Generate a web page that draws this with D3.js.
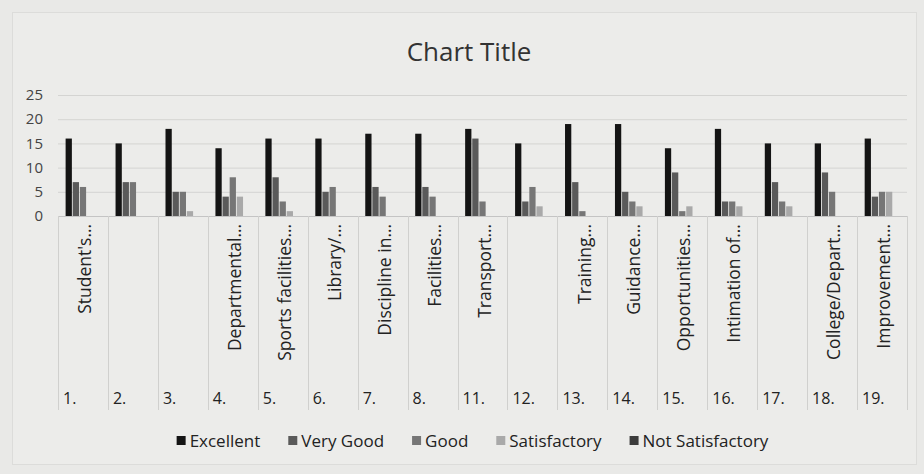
<!DOCTYPE html>
<html>
<head>
<meta charset="utf-8">
<script src="https://cdn.jsdelivr.net/npm/d3@7"></script>
<style>
    body { margin: 0; background: #e9e9e7; }
    svg { display: block; font-family: "Open Sans", sans-serif; }
</style>
</head>
<body>
<div class="chart"></div>
<script>
const numbers = ['1.', '2.', '3.', '4.', '5.', '6.', '7.', '8.', '11.', '12.', '13.', '14.', '15.', '16.', '17.', '18.', '19.']
const names = ["Student's…", '', '', 'Departmental…', 'Sports facilities…', 'Library/…', 'Discipline in…',
    'Facilities…', 'Transport…', '', 'Training…', 'Guidance…', 'Opportunities…', 'Intimation of…', '',
    'College/Depart…', 'Improvement…']

const excellent = [16, 15, 18, 14, 16, 16, 17, 17, 18, 15, 19, 19, 14, 18, 15, 15, 16]
const veryGood = [7, 7, 5, 4, 8, 5, 6, 6, 16, 3, 7, 5, 9, 3, 7, 9, 4]
const good = [6, 7, 5, 8, 3, 6, 4, 4, 3, 6, 1, 3, 1, 3, 3, 5, 5]
const satisfactory = [0, 0, 1, 4, 1, 0, 0, 0, 0, 2, 0, 2, 2, 2, 2, 0, 5]
const notSatisfactory = [0, 0, 0, 0, 0, 0, 0, 0, 0, 0, 0, 0, 0, 0, 0, 0, 0]

const seriesNames = ['Excellent', 'Very Good', 'Good', 'Satisfactory', 'Not Satisfactory']
const yTicks = [0, 5, 10, 15, 20, 25]

const series = [excellent, veryGood, good, satisfactory, notSatisfactory]
const colors = ['#141414', '#5a5a5a', '#767676', '#a9a9a9', '#3c3c3c']

const width = 924
const height = 474
const plot = { left: 58, right: 907, top: 95, bottom: 216, labelBottom: 410 }

const svg = d3.select('.chart')
    .append('svg')
    .attr('width', width)
    .attr('height', height)

// faint chart frame
svg.append('rect')
    .attr('x', 12.5).attr('y', 12.5)
    .attr('width', width - 20).attr('height', height - 22)
    .attr('fill', '#ececea')
    .attr('stroke', '#dcdcda')

svg.append('text')
    .attr('x', 469).attr('y', 61)
    .attr('text-anchor', 'middle')
    .attr('font-size', 26)
    .attr('fill', '#333')
    .text('Chart Title')

const idx = d3.range(numbers.length)

const x0 = d3.scaleBand()
    .domain(idx)
    .range([plot.left, plot.right])

const x1 = d3.scaleBand()
    .domain(d3.range(series.length))
    .range([0, x0.bandwidth()])
    .paddingInner(0.12)
    .paddingOuter(1.07)

const y = d3.scaleLinear()
    .domain([0, 25])
    .range([plot.bottom, plot.top])

// gridlines
svg.append('g')
    .selectAll('line')
    .data(yTicks)
    .join('line')
    .attr('x1', plot.left)
    .attr('x2', plot.right)
    .attr('y1', d => y(d) + 0.5)
    .attr('y2', d => y(d) + 0.5)
    .attr('stroke', d => d === 0 ? '#c4c4c4' : '#d4d4d2')

// y axis labels
svg.append('g')
    .selectAll('text')
    .data(yTicks)
    .join('text')
    .attr('x', 43)
    .attr('y', d => y(d))
    .attr('dy', '0.35em')
    .attr('text-anchor', 'end')
    .attr('font-size', 15)
    .attr('fill', '#444')
    .text(d => d)

// category separators
svg.append('g')
    .selectAll('line')
    .data(d3.range(numbers.length + 1))
    .join('line')
    .attr('x1', d => Math.round(plot.left + d * x0.step()) + 0.5)
    .attr('x2', d => Math.round(plot.left + d * x0.step()) + 0.5)
    .attr('y1', plot.bottom)
    .attr('y2', plot.labelBottom)
    .attr('stroke', '#d0d0ce')

// bars
const groups = svg.append('g')
    .selectAll('g')
    .data(idx)
    .join('g')
    .attr('transform', i => `translate(${x0(i)},0)`)

groups.selectAll('rect')
    .data(i => series.map((s, k) => ({ k, v: s[i] })))
    .join('rect')
    .attr('x', d => x1(d.k))
    .attr('width', x1.bandwidth())
    .attr('y', d => y(d.v))
    .attr('height', d => y(0) - y(d.v))
    .attr('fill', d => colors[d.k])

// rotated category names
svg.append('g')
    .selectAll('text')
    .data(idx)
    .join('text')
    .attr('transform', i => `translate(${x0(i) + x0.bandwidth() / 2 + 2},224) rotate(-90)`)
    .attr('text-anchor', 'end')
    .attr('dy', '0.35em')
    .attr('font-size', 17.5)
    .attr('fill', '#222')
    .text(i => names[i])

// outer level numbers
svg.append('g')
    .selectAll('text')
    .data(idx)
    .join('text')
    .attr('x', i => x0(i) + 5)
    .attr('y', 404)
    .attr('font-size', 16)
    .attr('fill', '#222')
    .text(i => numbers[i])

// legend
const legend = svg.append('g')
const gap = 28
let lx = 0
seriesNames.forEach((name, k) => {
    const item = legend.append('g').attr('transform', `translate(${lx},0)`)
    item.append('rect')
        .attr('x', 0).attr('y', -5)
        .attr('width', 9).attr('height', 9)
        .attr('fill', colors[k])
    const t = item.append('text')
        .attr('x', 13)
        .attr('dy', '0.35em')
        .attr('font-size', 17)
        .attr('fill', '#222')
        .text(name)
    lx += 13 + t.node().getComputedTextLength() + gap
})
lx -= gap
legend.attr('transform', `translate(${(164 + 781) / 2 - lx / 2},441)`)
</script>
</body>
</html>
